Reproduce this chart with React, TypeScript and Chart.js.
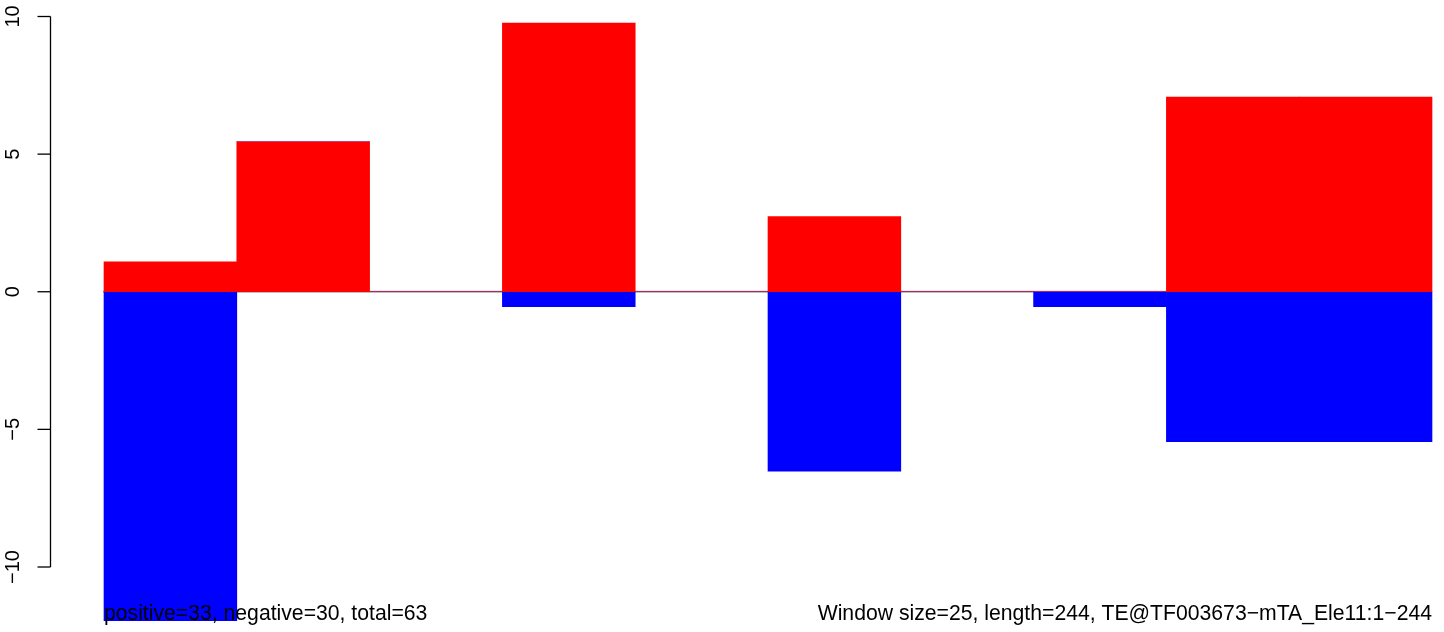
import React, { useEffect, useRef } from "react";
import { Chart, registerables } from "chart.js";

Chart.register(...registerables);

const windows = ["1", "2", "3", "4", "5", "6", "7", "8", "9", "10"];
const positiveValues = [1.09, 5.45, 0, 9.76, 0, 2.73, 0, 0, 7.07, 7.07];
const negativeValues = [-11.95, 0, 0, -0.545, 0, -6.52, 0, -0.545, -5.45, -5.45];
const yTicks = [-10, -5, 0, 5, 10];
const leftNote = "positive=33, negative=30, total=63";
const rightNote = "Window size=25, length=244, TE@TF003673\u2212mTA_Ele11:1\u2212244";

const FONT = '"Liberation Sans", Arial, Helvetica, sans-serif';

const rAxisPlugin = {
  id: "rAxis",
  beforeDatasetsDraw(chart: any) {
    const { ctx, chartArea } = chart;
    const y = chart.scales.y;
    const y0 = y.getPixelForValue(0);
    ctx.save();
    ctx.strokeStyle = "#A9A9A9";
    ctx.lineWidth = 2;
    ctx.beginPath();
    ctx.moveTo(chartArea.left - 1, y0);
    ctx.lineTo(chartArea.right, y0);
    ctx.stroke();
    ctx.restore();
  },
  afterDraw(chart: any) {
    const { ctx } = chart;
    const y = chart.scales.y;
    const axisX = 50.5;
    ctx.save();
    ctx.strokeStyle = "#000";
    ctx.lineWidth = 1.3;
    ctx.beginPath();
    ctx.moveTo(axisX, y.getPixelForValue(yTicks[yTicks.length - 1]));
    ctx.lineTo(axisX, y.getPixelForValue(yTicks[0]));
    ctx.stroke();
    ctx.fillStyle = "#000";
    ctx.font = `20px ${FONT}`;
    ctx.textAlign = "center";
    ctx.textBaseline = "middle";
    for (const t of yTicks) {
      const py = y.getPixelForValue(t);
      ctx.beginPath();
      ctx.moveTo(37.5, py);
      ctx.lineTo(axisX, py);
      ctx.stroke();
      ctx.save();
      ctx.translate(13, py);
      ctx.rotate(-Math.PI / 2);
      ctx.fillText(String(t).replace("-", "\u2212"), 0, 0);
      ctx.restore();
    }
    ctx.font = `21.2px ${FONT}`;
    ctx.textBaseline = "alphabetic";
    ctx.textAlign = "left";
    ctx.fillText(leftNote, chart.chartArea.left, 620);
    ctx.textAlign = "right";
    ctx.fillText(rightNote, chart.chartArea.right, 620);
    ctx.restore();
  },
};

export default function App() {
  const canvasRef = useRef<HTMLCanvasElement | null>(null);

  useEffect(() => {
    document.body.style.margin = "0";
    const canvas = canvasRef.current;
    if (!canvas) return;
    const chart = new Chart(canvas, {
      type: "bar",
      data: {
        labels: windows,
        datasets: [
          {
            label: "positive",
            data: positiveValues,
            backgroundColor: "#FF0000",
            borderWidth: 0,
            barPercentage: 1,
            categoryPercentage: 1,
            clip: false as any,
          },
          {
            label: "negative",
            data: negativeValues,
            backgroundColor: "#0000FF",
            borderWidth: 0,
            barPercentage: 1,
            categoryPercentage: 1,
            clip: false as any,
          },
        ],
      },
      options: {
        responsive: false,
        animation: false,
        devicePixelRatio: 1,
        layout: { padding: { left: 104, right: 12, top: 16.5, bottom: 65 } },
        plugins: {
          legend: { display: false },
          tooltip: { enabled: false },
          title: { display: false },
        },
        scales: {
          x: { display: false, stacked: true },
          y: { display: false, stacked: true, min: -10, max: 10 },
        },
      },
      plugins: [rAxisPlugin],
    });
    return () => chart.destroy();
  }, []);

  return (
    <div style={{ position: "fixed", left: 0, top: 0, width: 1444, height: 632, background: "#fff" }}>
      <canvas ref={canvasRef} width={1444} height={632} style={{ display: "block" }} />
    </div>
  );
}
